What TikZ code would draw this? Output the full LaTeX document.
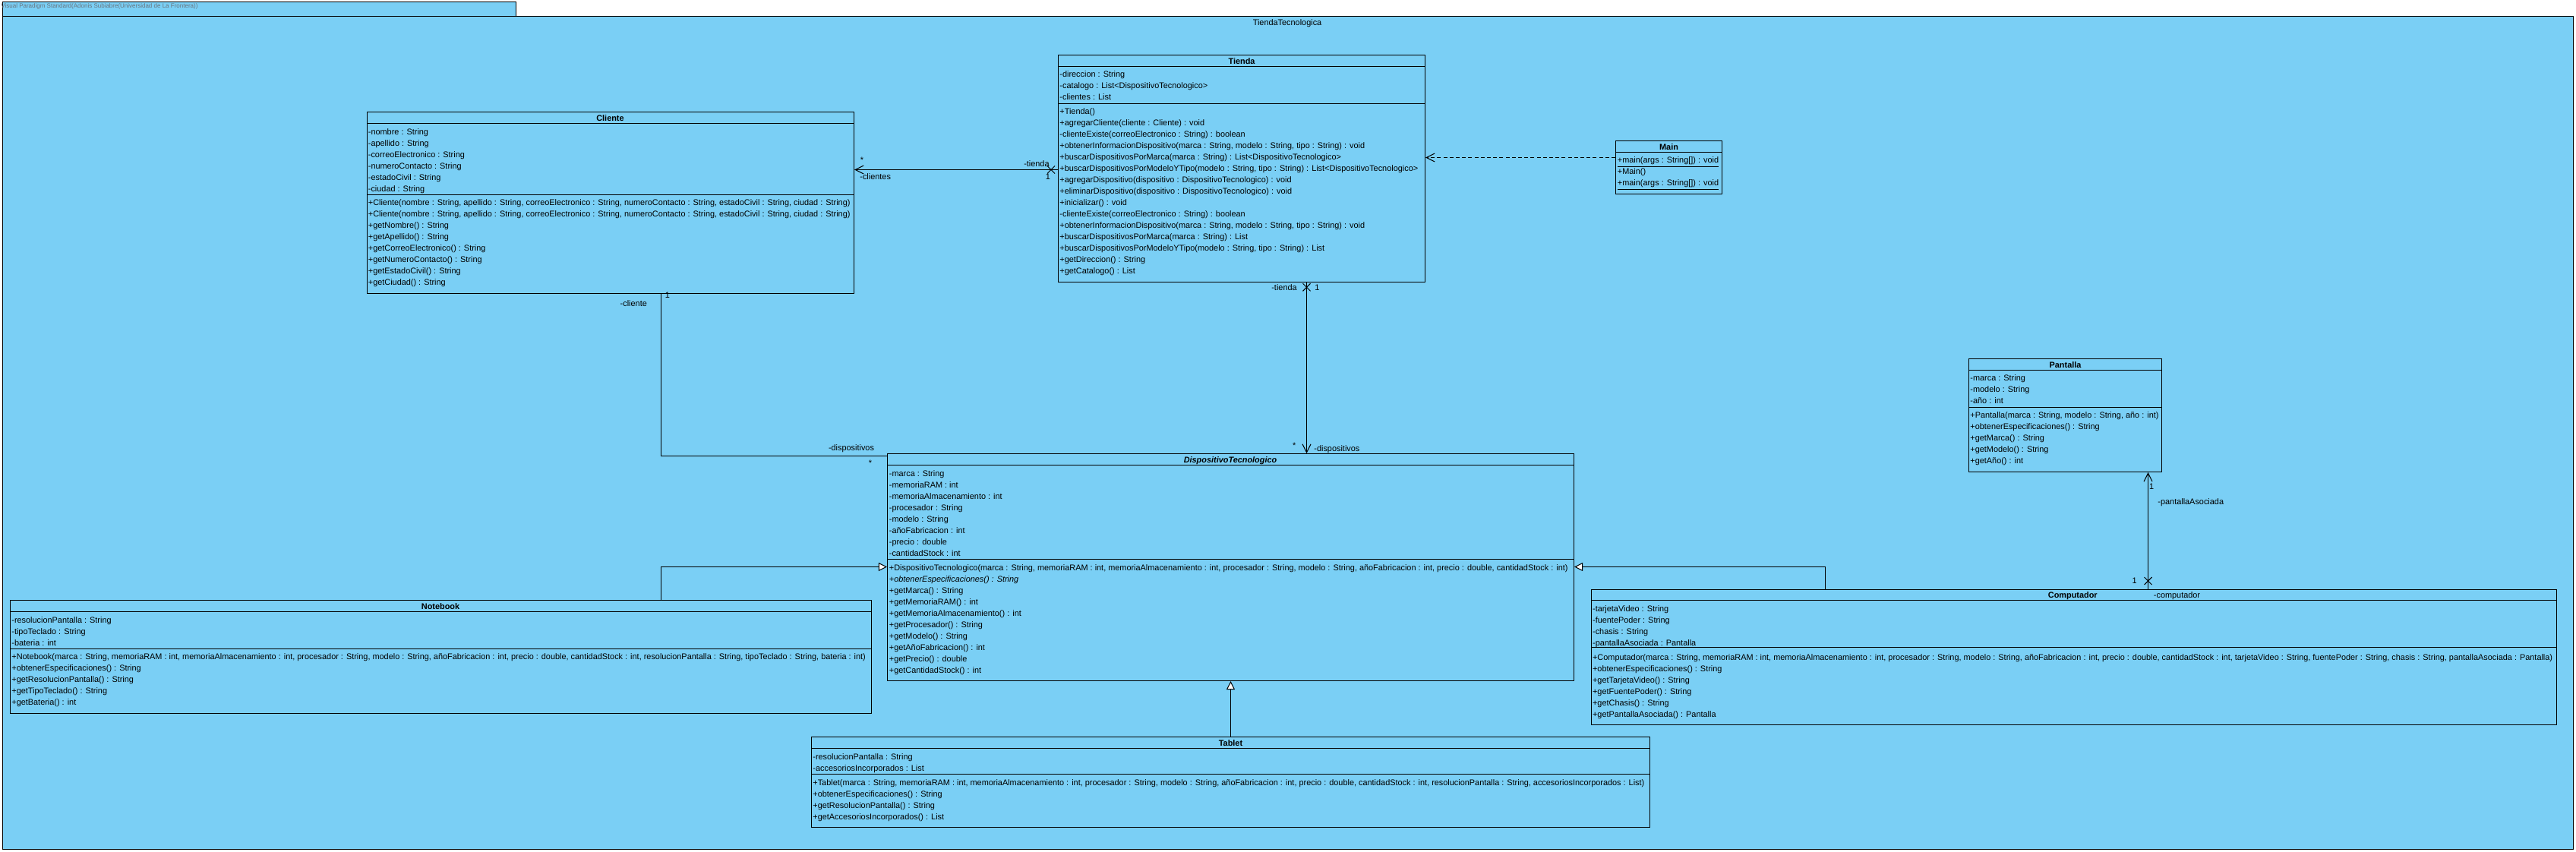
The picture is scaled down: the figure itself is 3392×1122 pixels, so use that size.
\documentclass[tikz,border=0pt]{standalone}
\usepackage{fontspec}
\setmainfont{Liberation Sans}
\usetikzlibrary{arrows.meta,fit}
\definecolor{clsblue}{RGB}{122,207,245}
\definecolor{tabgray}{RGB}{105,115,125}
\newcommand{\umlx}[1]{\draw[assoc] (#1) +(-5,-5) -- +(5,5) (#1) +(-5,5) -- +(5,-5);}
\begin{document}
\begin{tikzpicture}[x=0.5pt,y=-0.5pt,
  clsbox/.style={draw=black, fill=clsblue, line width=0.55pt, inner sep=0pt},
  sepline/.style={line width=0.55pt},
  txt/.style={anchor=north west, inner sep=0pt, align=left, font=\fontsize{5.45pt}{7.5pt}\selectfont},
  ttl/.style={anchor=base, inner sep=0pt, font=\fontsize{5.45pt}{7.5pt}\selectfont\bfseries},
  lbl/.style={inner sep=0pt, font=\fontsize{5.45pt}{7.5pt}\selectfont},
  assoc/.style={line width=0.5pt},
  navtip/.tip={Straight Barb[length=5.5pt,width=5.5pt]},
  gentip/.tip={Triangle[length=5.5pt,width=5.5pt,fill=white]}]
\useasboundingbox (0,0) rectangle (3392,1122);
\fill[white] (0,0) rectangle (3392,1122);
% package
\node[clsbox, fit={(3.5,2.5) (679.5,21.5)}] (pkgtab) {};
\node[clsbox, fit={(3.5,21.5) (3388.5,1118.5)}] (pkg) {};
\node[lbl, anchor=base west, font=\fontsize{4pt}{5pt}\selectfont, text=tabgray] (pkgnote) at (1,11) {Visual Paradigm Standard(Adonis Subiabre(Universidad de La Frontera))};
\node[lbl, anchor=base] (pkgname) at (1695,34) {TiendaTecnologica};

% Cliente
\node[clsbox, fit={(483.5,147.5) (1124.5,386.5)}] (cliente) {};
\draw[sepline] (483.5,162.5) -- (1124.5,162.5) (483.5,256.5) -- (1124.5,256.5);
\node[ttl] (clienteT) at (803.5,159.7) {Cliente};
\node[txt] (clienteA) at (484.5,166.2) {\strut -nombre : String\\-apellido : String\\-correoElectronico : String\\-numeroContacto : String\\-estadoCivil : String\\-ciudad : String};
\node[txt] (clienteO) at (484.5,259.5) {\strut +Cliente(nombre : String, apellido : String, correoElectronico : String, numeroContacto : String, estadoCivil : String, ciudad : String)\\+Cliente(nombre : String, apellido : String, correoElectronico : String, numeroContacto : String, estadoCivil : String, ciudad : String)\\+getNombre() : String\\+getApellido() : String\\+getCorreoElectronico() : String\\+getNumeroContacto() : String\\+getEstadoCivil() : String\\+getCiudad() : String};

% Tienda
\node[clsbox, fit={(1393.5,72.5) (1876.5,371.5)}] (tienda) {};
\draw[sepline] (1393.5,87.5) -- (1876.5,87.5) (1393.5,136.5) -- (1876.5,136.5);
\node[ttl] (tiendaT) at (1635,84.3) {Tienda};
\node[txt] (tiendaA) at (1395,90.8) {\strut -direccion : String\\-catalogo : List<DispositivoTecnologico>\\-clientes : List};
\node[txt] (tiendaO) at (1395,139.8) {\strut +Tienda()\\+agregarCliente(cliente : Cliente) : void\\-clienteExiste(correoElectronico : String) : boolean\\+obtenerInformacionDispositivo(marca : String, modelo : String, tipo : String) : void\\+buscarDispositivosPorMarca(marca : String) : List<DispositivoTecnologico>\\+buscarDispositivosPorModeloYTipo(modelo : String, tipo : String) : List<DispositivoTecnologico>\\+agregarDispositivo(dispositivo : DispositivoTecnologico) : void\\+eliminarDispositivo(dispositivo : DispositivoTecnologico) : void\\+inicializar() : void\\-clienteExiste(correoElectronico : String) : boolean\\+obtenerInformacionDispositivo(marca : String, modelo : String, tipo : String) : void\\+buscarDispositivosPorMarca(marca : String) : List\\+buscarDispositivosPorModeloYTipo(modelo : String, tipo : String) : List\\+getDireccion() : String\\+getCatalogo() : List};

% Main
\node[clsbox, fit={(2127.5,185.5) (2267.5,255.5)}] (main) {};
\draw[sepline] (2127.5,200.5) -- (2267.5,200.5);
\node[ttl] (mainT) at (2197.5,197.3) {Main};
\node[txt] (mainO) at (2129.5,203.5) {\strut \underline{+main(args : String[]) : void}\\+Main()\\\underline{+main(args : String[]) : void}};

% DispositivoTecnologico
\node[clsbox, fit={(1168.5,597.5) (2072.5,896.5)}] (dt) {};
\draw[sepline] (1168.5,612.5) -- (2072.5,612.5) (1168.5,736.5) -- (2072.5,736.5);
\node[ttl, font=\fontsize{5.45pt}{7.5pt}\selectfont\bfseries\itshape] (dtT) at (1620,609.7) {DispositivoTecnologico};
\node[txt] (dtA) at (1170.5,616.2) {\strut -marca : String\\-memoriaRAM : int\\-memoriaAlmacenamiento : int\\-procesador : String\\-modelo : String\\-añoFabricacion : int\\-precio : double\\-cantidadStock : int};
\node[txt] (dtO) at (1170.5,740.2) {\strut +DispositivoTecnologico(marca : String, memoriaRAM : int, memoriaAlmacenamiento : int, procesador : String, modelo : String, añoFabricacion : int, precio : double, cantidadStock : int)\\\textit{+obtenerEspecificaciones() : String}\\+getMarca() : String\\+getMemoriaRAM() : int\\+getMemoriaAlmacenamiento() : int\\+getProcesador() : String\\+getModelo() : String\\+getAñoFabricacion() : int\\+getPrecio() : double\\+getCantidadStock() : int};

% Notebook
\node[clsbox, fit={(13.5,790.5) (1147.5,939.5)}] (notebook) {};
\draw[sepline] (13.5,805.5) -- (1147.5,805.5) (13.5,854.5) -- (1147.5,854.5);
\node[ttl] (notebookT) at (580,802.7) {Notebook};
\node[txt] (notebookA) at (15,809.2) {\strut -resolucionPantalla : String\\-tipoTeclado : String\\-bateria : int};
\node[txt] (notebookO) at (15,857.5) {\strut +Notebook(marca : String, memoriaRAM : int, memoriaAlmacenamiento : int, procesador : String, modelo : String, añoFabricacion : int, precio : double, cantidadStock : int, resolucionPantalla : String, tipoTeclado : String, bateria : int)\\+obtenerEspecificaciones() : String\\+getResolucionPantalla() : String\\+getTipoTeclado() : String\\+getBateria() : int};

% Tablet
\node[clsbox, fit={(1068.5,970.5) (2172.5,1089.5)}] (tablet) {};
\draw[sepline] (1068.5,985.5) -- (2172.5,985.5) (1068.5,1019.5) -- (2172.5,1019.5);
\node[ttl] (tabletT) at (1620.5,982.7) {Tablet};
\node[txt] (tabletA) at (1070,989.2) {\strut -resolucionPantalla : String\\-accesoriosIncorporados : List};
\node[txt] (tabletO) at (1070,1023.5) {\strut +Tablet(marca : String, memoriaRAM : int, memoriaAlmacenamiento : int, procesador : String, modelo : String, añoFabricacion : int, precio : double, cantidadStock : int, resolucionPantalla : String, accesoriosIncorporados : List)\\+obtenerEspecificaciones() : String\\+getResolucionPantalla() : String\\+getAccesoriosIncorporados() : List};

% Computador
\node[clsbox, fit={(2095.5,776.5) (3366.5,954.5)}] (computador) {};
\draw[sepline] (2095.5,790.5) -- (3366.5,790.5) (2095.5,852.5) -- (3366.5,852.5);
\node[ttl] (computadorT) at (2729.3,787.3) {Computador};
\node[txt] (computadorA) at (2096.7,794.2) {\strut -tarjetaVideo : String\\-fuentePoder : String\\-chasis : String\\-pantallaAsociada : Pantalla};
\node[txt] (computadorO) at (2096.7,858.8) {\strut +Computador(marca : String, memoriaRAM : int, memoriaAlmacenamiento : int, procesador : String, modelo : String, añoFabricacion : int, precio : double, cantidadStock : int, tarjetaVideo : String, fuentePoder : String, chasis : String, pantallaAsociada : Pantalla)\\+obtenerEspecificaciones() : String\\+getTarjetaVideo() : String\\+getFuentePoder() : String\\+getChasis() : String\\+getPantallaAsociada() : Pantalla};

% Pantalla
\node[clsbox, fit={(2592.5,472.5) (2846.5,621.5)}] (pantalla) {};
\draw[sepline] (2592.5,487.5) -- (2846.5,487.5) (2592.5,536.5) -- (2846.5,536.5);
\node[ttl] (pantallaT) at (2719.5,484.3) {Pantalla};
\node[txt] (pantallaA) at (2594,490.8) {\strut -marca : String\\-modelo : String\\-año : int};
\node[txt] (pantallaO) at (2594,539.8) {\strut +Pantalla(marca : String, modelo : String, año : int)\\+obtenerEspecificaciones() : String\\+getMarca() : String\\+getModelo() : String\\+getAño() : int};

% Connectors
% Cliente - Tienda
\draw[assoc, navtip-] (cliente.east |- 0,223.5) -- (tienda.west |- 0,223.5);
\coordinate (xct) at (1384,223.5);
\umlx{xct}
\node[lbl] (l1) at (1135,210.7) {*};
\node[lbl, anchor=base west] (l2) at (1132,236.3) {-clientes};
\node[lbl, anchor=base east] (l3) at (1382,219.3) {-tienda};
\node[lbl] (l4) at (1380,233) {1};

% Tienda - DispositivoTecnologico
\draw[assoc, -navtip] (tienda.south -| 1720.5,0) -- (dt.north -| 1720.5,0);
\coordinate (xtd) at (1720.5,378.3);
\umlx{xtd}
\node[lbl, anchor=base] (l5) at (1691,382.3) {-tienda};
\node[lbl] (l6) at (1734.3,378.3) {1};
\node[lbl] (l7) at (1704.3,587) {*};
\node[lbl, anchor=base west] (l8) at (1730,594) {-dispositivos};

% Cliente - DispositivoTecnologico
\draw[assoc] (cliente.south -| 870.5,0) |- (dt.west |- 0,600.5);
\node[lbl] (l9) at (879,389) {1};
\node[lbl, anchor=base] (l10) at (834.3,403.3) {-cliente};
\node[lbl, anchor=base] (l11) at (1121,593.3) {-dispositivos};
\node[lbl] (l12) at (1146,610) {*};

% Main - Tienda dependency
\draw[assoc, dash pattern=on 2.5pt off 1.6pt, -navtip] (main.west |- 0,207.5) -- (tienda.east |- 0,207.5);

% Generalizations
\draw[assoc, -gentip] (notebook.north -| 870.5,0) |- (dt.west |- 0,746.5);
\draw[assoc, -gentip] (computador.north -| 2403.5,0) |- (dt.east |- 0,746.5);
\draw[assoc, -gentip] (tablet.north -| 1620.5,0) -- (dt.south -| 1620.5,0);

% Computador - Pantalla
\draw[assoc, -navtip] (computador.north -| 2828.5,0) -- (pantalla.south -| 2828.5,0);
\coordinate (xcp) at (2828.5,765);
\umlx{xcp}
\node[lbl] (l13) at (2833,640.3) {1};
\node[lbl, anchor=base west] (l14) at (2841,664) {-pantallaAsociada};
\node[lbl] (l15) at (2810.7,765) {1};
\node[lbl, anchor=base west] (l16) at (2835.5,787.3) {-computador};
\end{tikzpicture}
\end{document}
